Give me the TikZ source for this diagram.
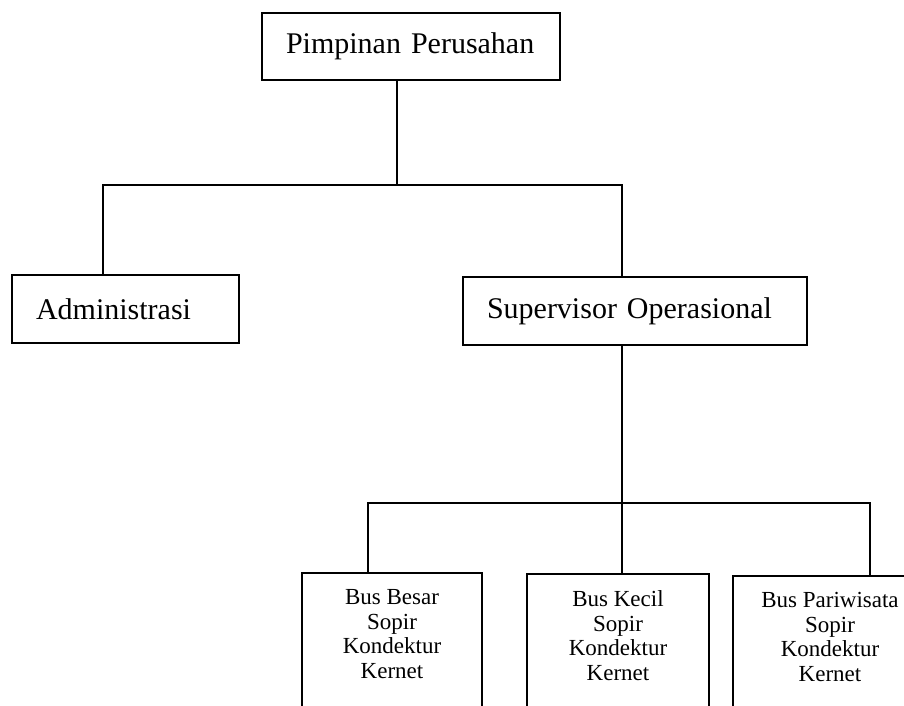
\documentclass[tikz,border=0pt]{standalone}
\usepackage{fontspec}
\setmainfont{Liberation Serif}
\usetikzlibrary{positioning}
\tikzset{
  headbox/.style={rectangle, draw, line width=1.5pt, inner xsep=24pt, inner ysep=0pt,
                  align=left, font=\fontsize{30}{34}\selectfont},
  unitbox/.style={rectangle, draw, line width=1.5pt, anchor=north, inner xsep=0pt,
                  inner ysep=17pt, font=\fontsize{23}{24.5}\selectfont},
  link/.style={line width=1.5pt},
}
\newcommand{\crewlist}[2]{\parbox[t][150pt][t]{#1}{\centering #2\\Sopir\\Kondektur\\Kernet}}

\begin{document}
\begin{tikzpicture}[x=1pt, y=-1pt]
  \useasboundingbox (0,0) rectangle (904,705);

  % top level
  \node[headbox, text width=250pt, minimum height=67pt] (pimpinan) at (411,46.5) {Pimpinan Perusahan};

  % second level
  \node[headbox, text width=179pt, minimum height=68pt] (admin) at (125.5,309) {Administrasi};
  \node[headbox, text width=296pt, minimum height=68pt] (supervisor) at (635,311) {Supervisor Operasional};

  % bus units
  \node[unitbox] (besar) at (392,572) {\crewlist{180pt}{Bus Besar}};
  \node[unitbox] (kecil) at (618,573) {\crewlist{182pt}{Bus Kecil}};
  \node[unitbox] (wisata) at (830,575) {\crewlist{194pt}{Bus Pariwisata}};

  % junctions
  \coordinate (j1) at (397,185);
  \coordinate (jl) at (103,185);
  \coordinate (jr) at (622,185);
  \coordinate (k1) at (622,503);
  \coordinate (kl) at (368,503);
  \coordinate (kr) at (870,503);

  % connectors
  \draw[link] (pimpinan.south -| j1) -- (j1);
  \draw[link] (admin.north -| jl) -- (jl) -- (jr) -- (supervisor.north -| jr);
  \draw[link] (supervisor.south -| k1) -- (kecil.north -| k1);
  \draw[link] (besar.north -| kl) -- (kl) -- (kr) -- (wisata.north -| kr);
\end{tikzpicture}
\end{document}
